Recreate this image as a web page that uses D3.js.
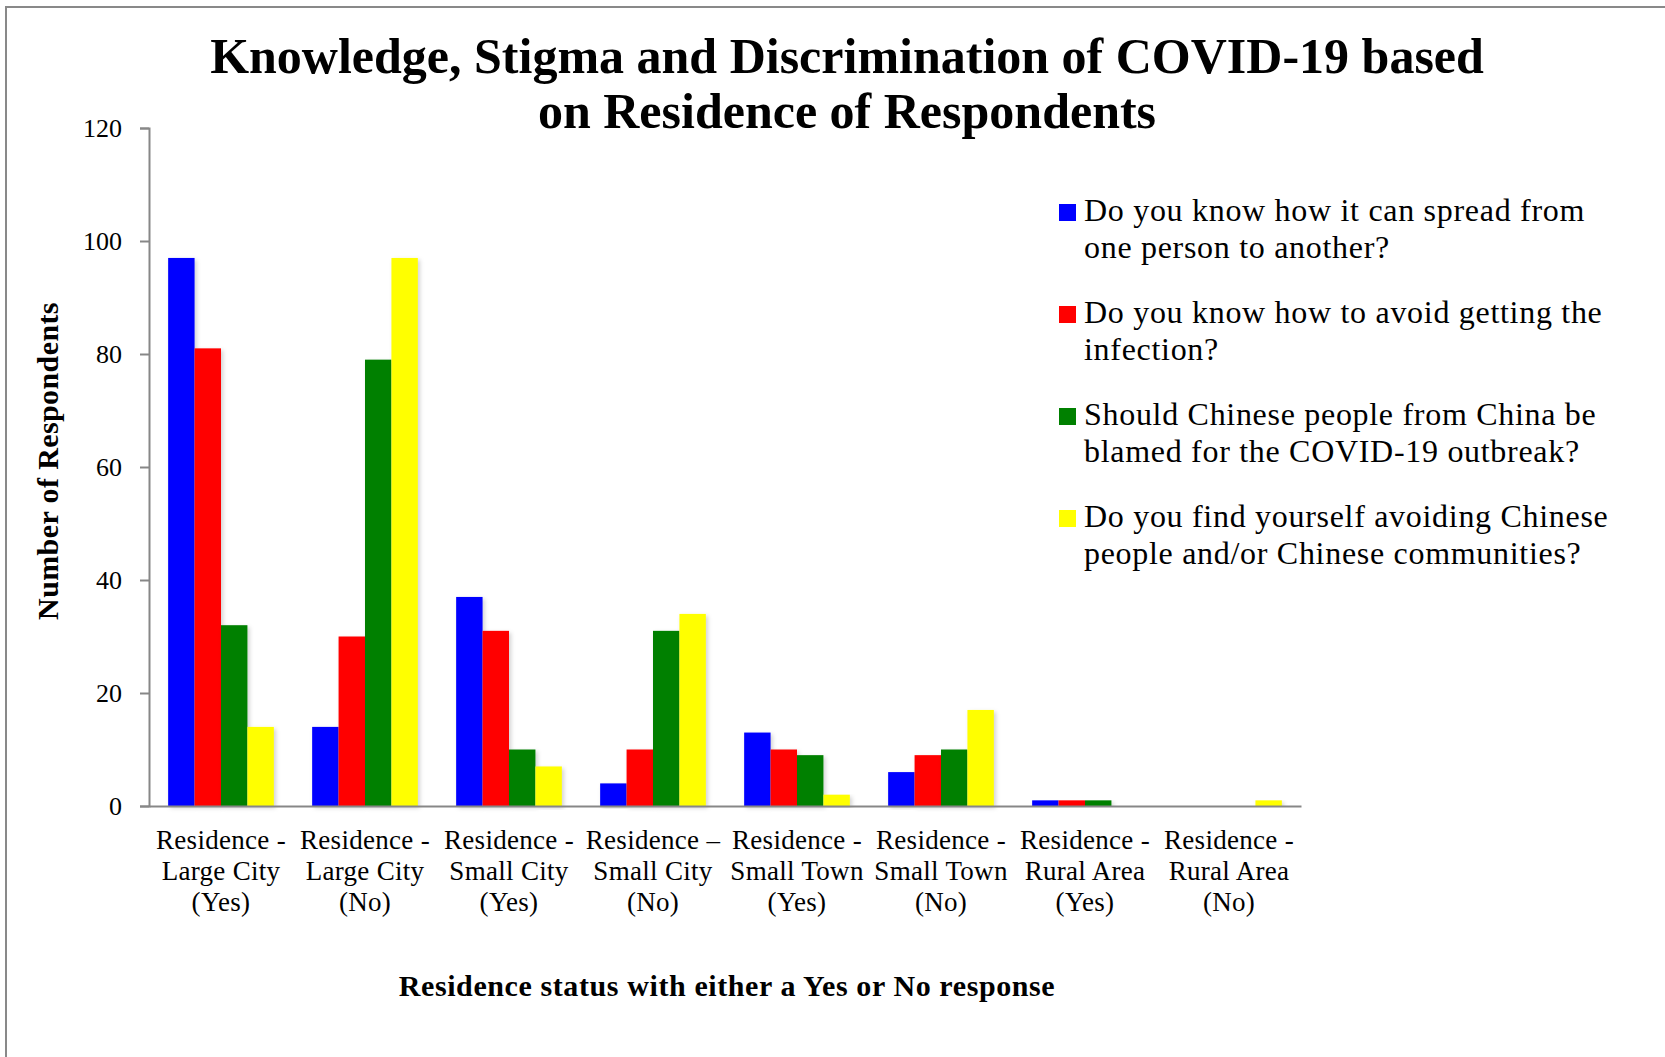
<!DOCTYPE html>
<html>
<head>
<meta charset="utf-8">
<script src="https://cdn.jsdelivr.net/npm/d3@7/dist/d3.min.js"></script>
<style>
  html, body { margin: 0; padding: 0; background: #fff; }
  svg { display: block; }
  text { font-family: "Liberation Serif", "DejaVu Serif", serif; fill: #000; }
</style>
</head>
<body>
<svg id="chart" width="1665" height="1057"></svg>
<script>
// ---- data ----
const categories = [
  ["Residence -", "Large City", "(Yes)"],
  ["Residence -", "Large City", "(No)"],
  ["Residence -", "Small City", "(Yes)"],
  ["Residence \u2013", "Small City", "(No)"],
  ["Residence -", "Small Town", "(Yes)"],
  ["Residence -", "Small Town", "(No)"],
  ["Residence -", "Rural Area", "(Yes)"],
  ["Residence -", "Rural Area", "(No)"]
];
const seriesNames = [
  ["Do you know how it can spread from", "one person to another?"],
  ["Do you know how to avoid getting the", "infection?"],
  ["Should Chinese people from China be", "blamed for the COVID-19 outbreak?"],
  ["Do you find yourself avoiding Chinese", "people and/or Chinese communities?"]
];
const spreadKnowledge = [97, 14, 37, 4, 13, 6, 1, 0];
const avoidKnowledge  = [81, 30, 31, 10, 10, 9, 1, 0];
const blameChinese    = [32, 79, 10, 31, 9, 10, 1, 0];
const avoidChinese    = [14, 97, 7, 34, 2, 17, 0, 1];
const seriesValues = [spreadKnowledge, avoidKnowledge, blameChinese, avoidChinese];
const seriesColors = ["#0000ff", "#ff0000", "#008000", "#ffff00"];
const yTicks = [0, 20, 40, 60, 80, 100, 120];
const titleLines = ["Knowledge, Stigma and Discrimination of COVID-19 based", "on Residence of Respondents"];
const yTitle = "Number of Respondents";
const xTitle = "Residence status with either a Yes or No response";

// ---- layout ----
const svg = d3.select("#chart");
const x0 = 149, x1 = 1301, yTop = 128, yBot = 806;

// frame
svg.append("path")
  .attr("d", "M6,1057 V7 H1665")
  .attr("fill", "none").attr("stroke", "#898989").attr("stroke-width", 2);

const defs = svg.append("defs");
const f = defs.append("filter").attr("id", "shadow")
  .attr("x", "-20%").attr("y", "-5%").attr("width", "150%").attr("height", "115%");
f.append("feDropShadow").attr("dx", 2).attr("dy", 2).attr("stdDeviation", 2)
  .attr("flood-color", "#000").attr("flood-opacity", 0.18);

const idx = d3.range(categories.length);
const x = d3.scaleBand().domain(idx).range([x0, x1]).paddingInner(0.266).paddingOuter(0.133);
const xs = d3.scaleBand().domain(d3.range(seriesValues.length)).range([0, x.bandwidth()]);
const y = d3.scaleLinear().domain([0, 120]).range([yBot, yTop]);

// bars
const groups = svg.append("g").selectAll("g").data(idx).join("g")
  .attr("transform", i => `translate(${x(i)},0)`);
groups.selectAll("rect")
  .data(i => seriesValues.map((vals, s) => ({ s, v: vals[i] })))
  .join("rect")
  .attr("x", d => xs(d.s))
  .attr("width", xs.bandwidth())
  .attr("y", d => y(d.v))
  .attr("height", d => yBot - y(d.v))
  .attr("fill", d => seriesColors[d.s])
  .attr("filter", d => d.v > 0 ? "url(#shadow)" : null)
  .style("display", d => d.v > 0 ? null : "none");

// y axis
const yAxis = svg.append("g").attr("transform", `translate(${x0},0)`)
  .call(d3.axisLeft(y).tickValues(yTicks).tickSize(9).tickPadding(18));
yAxis.select(".domain").attr("stroke", "#878787").attr("stroke-width", 2);
yAxis.selectAll(".tick line").attr("stroke", "#878787").attr("stroke-width", 2);
yAxis.selectAll(".tick text")
  .style("font-family", '"Liberation Serif", serif')
  .attr("font-size", 26).attr("fill", "#000").attr("dy", "0.34em");

// x axis
const xAxis = svg.append("g").attr("transform", `translate(0,${yBot})`)
  .call(d3.axisBottom(x).tickSize(0).tickFormat(""));
xAxis.select(".domain").attr("stroke", "#878787").attr("stroke-width", 2);

// category labels
const catG = svg.append("g");
idx.forEach(i => {
  const cx = x(i) + x.bandwidth() / 2;
  const t = catG.append("text").attr("text-anchor", "middle").attr("font-size", 27)
    .attr("letter-spacing", 0.3);
  categories[i].forEach((line, k) => {
    t.append("tspan").attr("x", cx).attr("y", 849 + k * 31).text(line);
  });
});

// title
const title = svg.append("text").attr("text-anchor", "middle")
  .attr("font-size", 50).attr("font-weight", "bold");
titleLines.forEach((line, k) => {
  title.append("tspan").attr("x", 847).attr("y", 73 + k * 55).text(line);
});

// y title
svg.append("text")
  .attr("transform", "translate(58,461) rotate(-90)")
  .attr("text-anchor", "middle").attr("font-size", 30).attr("font-weight", "bold")
  .attr("letter-spacing", 0.4)
  .text(yTitle);

// x title
svg.append("text")
  .attr("x", 727).attr("y", 996)
  .attr("text-anchor", "middle").attr("font-size", 30).attr("font-weight", "bold")
  .attr("letter-spacing", 0.6)
  .text(xTitle);

// legend
const leg = svg.append("g").selectAll("g").data(seriesNames).join("g")
  .attr("transform", (d, k) => `translate(1059,${221 + k * 102})`);
leg.append("rect").attr("x", 0).attr("y", -17).attr("width", 17).attr("height", 17)
  .attr("fill", (d, k) => seriesColors[k]);
leg.append("text").attr("font-size", 32).attr("letter-spacing", 0.7)
  .each(function(d) {
    const t = d3.select(this);
    d.forEach((line, j) => {
      t.append("tspan").attr("x", 25).attr("y", j * 36.5).text(line);
    });
  });
</script>
</body>
</html>
